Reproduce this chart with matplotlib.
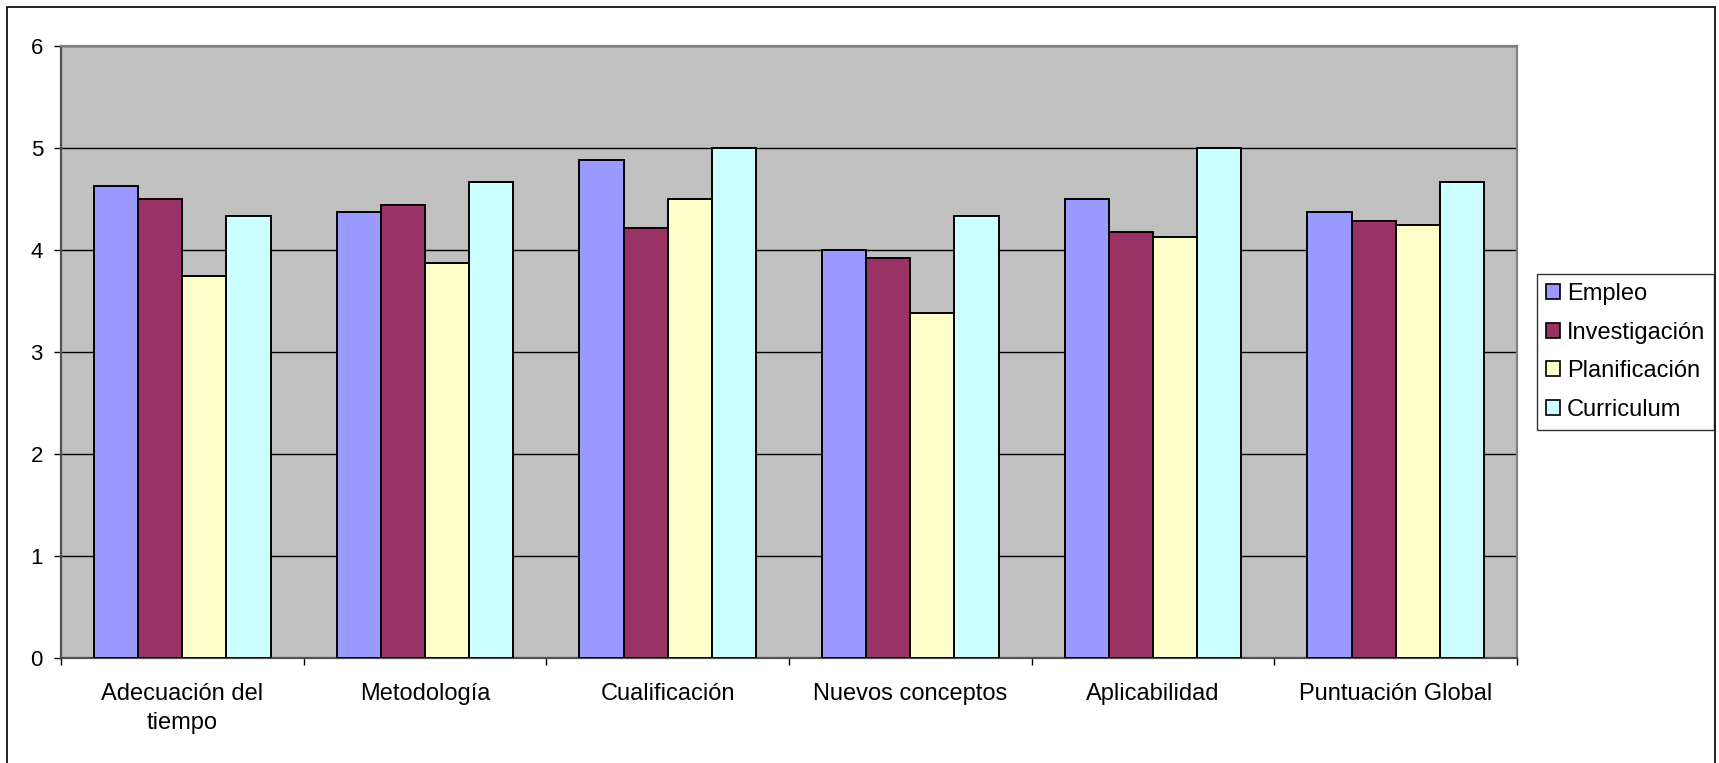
import matplotlib
matplotlib.use("Agg")
import matplotlib.pyplot as plt
from matplotlib.patches import Rectangle
import numpy as np

plt.rcParams['font.family'] = ['Liberation Sans', 'DejaVu Sans']

categories = ["Adecuación del\ntiempo", "Metodología", "Cualificación",
              "Nuevos conceptos", "Aplicabilidad", "Puntuación Global"]
series_names = ["Empleo", "Investigación", "Planificación", "Curriculum"]
empleo = [4.62, 4.37, 4.88, 4.0, 4.5, 4.37]
investigacion = [4.5, 4.44, 4.21, 3.92, 4.17, 4.28]
planificacion = [3.74, 3.87, 4.5, 3.38, 4.12, 4.24]
curriculum = [4.33, 4.66, 5.0, 4.33, 5.0, 4.66]
colors = ["#9999FF", "#993366", "#FFFFCC", "#CCFFFF"]
yticks = [0, 1, 2, 3, 4, 5, 6]

W, H = 1719, 763
fig = plt.figure(figsize=(W / 100, H / 100), dpi=100)
ax = fig.add_axes([61 / W, 1 - 657.7 / H, (1517 - 61) / W, (657.7 - 45.7) / H])
ax.set_facecolor("#C0C0C0")

data = [empleo, investigacion, planificacion, curriculum]
n = len(series_names)
bw = 1.0 / (n + 1.5)
x = np.arange(len(categories))
for i, (name, vals, c) in enumerate(zip(series_names, data, colors)):
    offs = (i - (n - 1) / 2) * bw
    ax.bar(x + offs, vals, width=bw, color=c, edgecolor="black", linewidth=1.4,
           label=name, zorder=3)

ax.set_xlim(-0.5, len(categories) - 0.5)
ax.set_ylim(0, 6)
ax.set_yticks(yticks)
ax.set_yticklabels([str(t) for t in yticks], fontsize=16)
ax.yaxis.grid(True, color="black", linewidth=1.0, zorder=1)
ax.set_axisbelow(True)

# category boundary ticks (major) and labels at centers (minor)
ax.set_xticks(np.arange(len(categories) + 1) - 0.5)
ax.set_xticklabels([])
ax.set_xticks(x, minor=True)
ax.set_xticklabels(categories, minor=True, fontsize=17, ha="center", va="top",
                   linespacing=1.45)
ax.tick_params(axis="x", which="minor", length=0, pad=18)
ax.tick_params(axis="x", which="major", length=5, width=1, color="black", direction="out")
ax.tick_params(axis="y", length=5, width=1, color="black", direction="out", pad=8)

for s in ["left", "bottom"]:
    ax.spines[s].set_color("#505050")
    ax.spines[s].set_linewidth(1.6)
for s in ["top", "right"]:
    ax.spines[s].set_color("#808080")
    ax.spines[s].set_linewidth(1.6)

leg = fig.legend(loc="upper left", bbox_to_anchor=(1537 / W, 1 - 274 / H),
                 fontsize=17, frameon=True, fancybox=False, edgecolor="black",
                 handlelength=0.58, handleheight=0.58, handletextpad=0.3,
                 labelspacing=0.7, borderpad=0.38, borderaxespad=0)
leg.get_frame().set_linewidth(1.0)
for h in leg.legend_handles:
    h.set_linewidth(1.2)

fig.patches.append(Rectangle((7 / W, -0.05), (1715 - 7) / W, 1.05 - 6.7 / H,
                             transform=fig.transFigure, fill=False,
                             edgecolor="black", linewidth=1.2))

fig.savefig("out.png", dpi=100)
